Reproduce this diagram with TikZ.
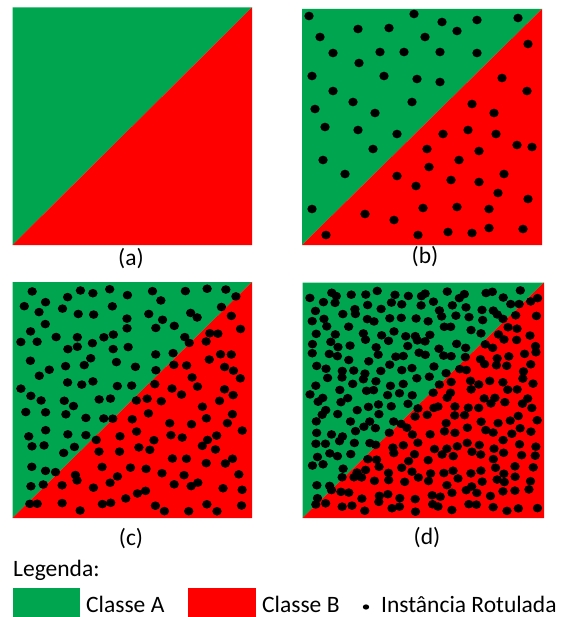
\documentclass[tikz,border=0pt]{standalone}
\usepackage{fontspec}
\setmainfont{Carlito}
\usetikzlibrary{positioning}
\definecolor{clsA}{HTML}{00A64F}
\definecolor{clsB}{HTML}{FF0000}
\tikzset{
  regA/.style={fill=clsA},
  regB/.style={fill=clsB},
  inst/.style={fill=black},
  lab/.style={font=\fontsize{23.5}{28}\selectfont,inner sep=0pt},
}

\begin{document}
\begin{tikzpicture}[x=1pt,y=-1pt]
\useasboundingbox (0,0) rectangle (563,617);
% (a) only the two classes
\fill[regA] (12.5,7.5) -- (252,7.5) -- (12.5,245) -- cycle;
\fill[regB] (252,7.5) -- (252,245) -- (12.5,245) -- cycle;
\node[lab] (la) at (131,259) {(a)};
% (b) few labelled instances
\fill[regA] (302,9) -- (542,9) -- (302,245) -- cycle;
\fill[regB] (542,9) -- (542,245) -- (302,245) -- cycle;
\foreach \p in {(309,16),(414,14),(442,22),(477,20),(518,18),(320,37),(358,29),(389,28),
  (425,37),(457,31),(333,53),(380,52),(404,52),(440,52),(477,53),(359,63),(312,76),
  (384,76),(417,79),(440,82),(333,91),(353,102),(412,102),(315,109),(375,113),(325,127),
  (358,130),(397,134),(373,149),(323,160),(345,174),(312,209)}
  \fill[inst] \p ellipse (4.7pt and 4.3pt);
\foreach \p in {(528,44),(502,78),(527,91),(472,104),(494,113),(443,134),(468,130),(496,134),
  (427,149),(479,151),(517,145),(532,147),(459,160),(429,167),(397,176),(451,180),(479,182),
  (504,174),(416,186),(498,193),(528,199),(423,208),(457,207),(489,209),(365,214),(394,220),
  (326,235),(418,235),(448,232),(472,233),(489,228),(523,229)}
  \fill[inst] \p ellipse (4.7pt and 4.3pt);
\node[lab] (lb) at (425,257) {(b)};
% (c) more labelled instances
\fill[regA] (12.5,282) -- (252,282) -- (12.5,518) -- cycle;
\fill[regB] (252,282) -- (252,518) -- (12.5,518) -- cycle;
\pgfmathsetseed{17}
\foreach \i in {0,...,12}
  \foreach \j in {0,...,12} {
    \pgfmathsetmacro\px{17.5+(\i+0.5)*229.5/13+7*rand}
    \pgfmathsetmacro\py{287+(\j+0.5)*226/13+7*rand}
    \fill[inst] (\px,\py) ellipse (4.7pt and 4.3pt);
  }
\node[lab] (lc) at (131,539) {(c)};
% (d) many labelled instances
\fill[regA] (302.5,282.5) -- (544,282.5) -- (302.5,518) -- cycle;
\fill[regB] (544,282.5) -- (544,518) -- (302.5,518) -- cycle;
\pgfmathsetseed{29}
\foreach \i in {0,...,17}
  \foreach \j in {0,...,17} {
    \pgfmathsetmacro\px{307.5+(\i+0.5)*231.5/18+5*rand}
    \pgfmathsetmacro\py{287.5+(\j+0.5)*225.5/18+5*rand}
    \fill[inst] (\px,\py) ellipse (4.7pt and 4.3pt);
  }
\node[lab] (ld) at (427,538) {(d)};
% legend
\node[lab,anchor=base west] (leg) at (13,576) {Legenda:};
\fill[regA] (12.5,588) rectangle (80,617);
\node[lab,anchor=base west] (ka) at (86,612.5) {Classe A};
\fill[regB] (188,588) rectangle (256,617);
\node[lab,anchor=base west] (kb) at (262,612.5) {Classe B};
\fill[inst] (366,607) ellipse (3.2pt and 2.6pt);
\node[lab,anchor=base west] (ki) at (381,612.5) {Instância Rotulada};
\end{tikzpicture}
\end{document}
